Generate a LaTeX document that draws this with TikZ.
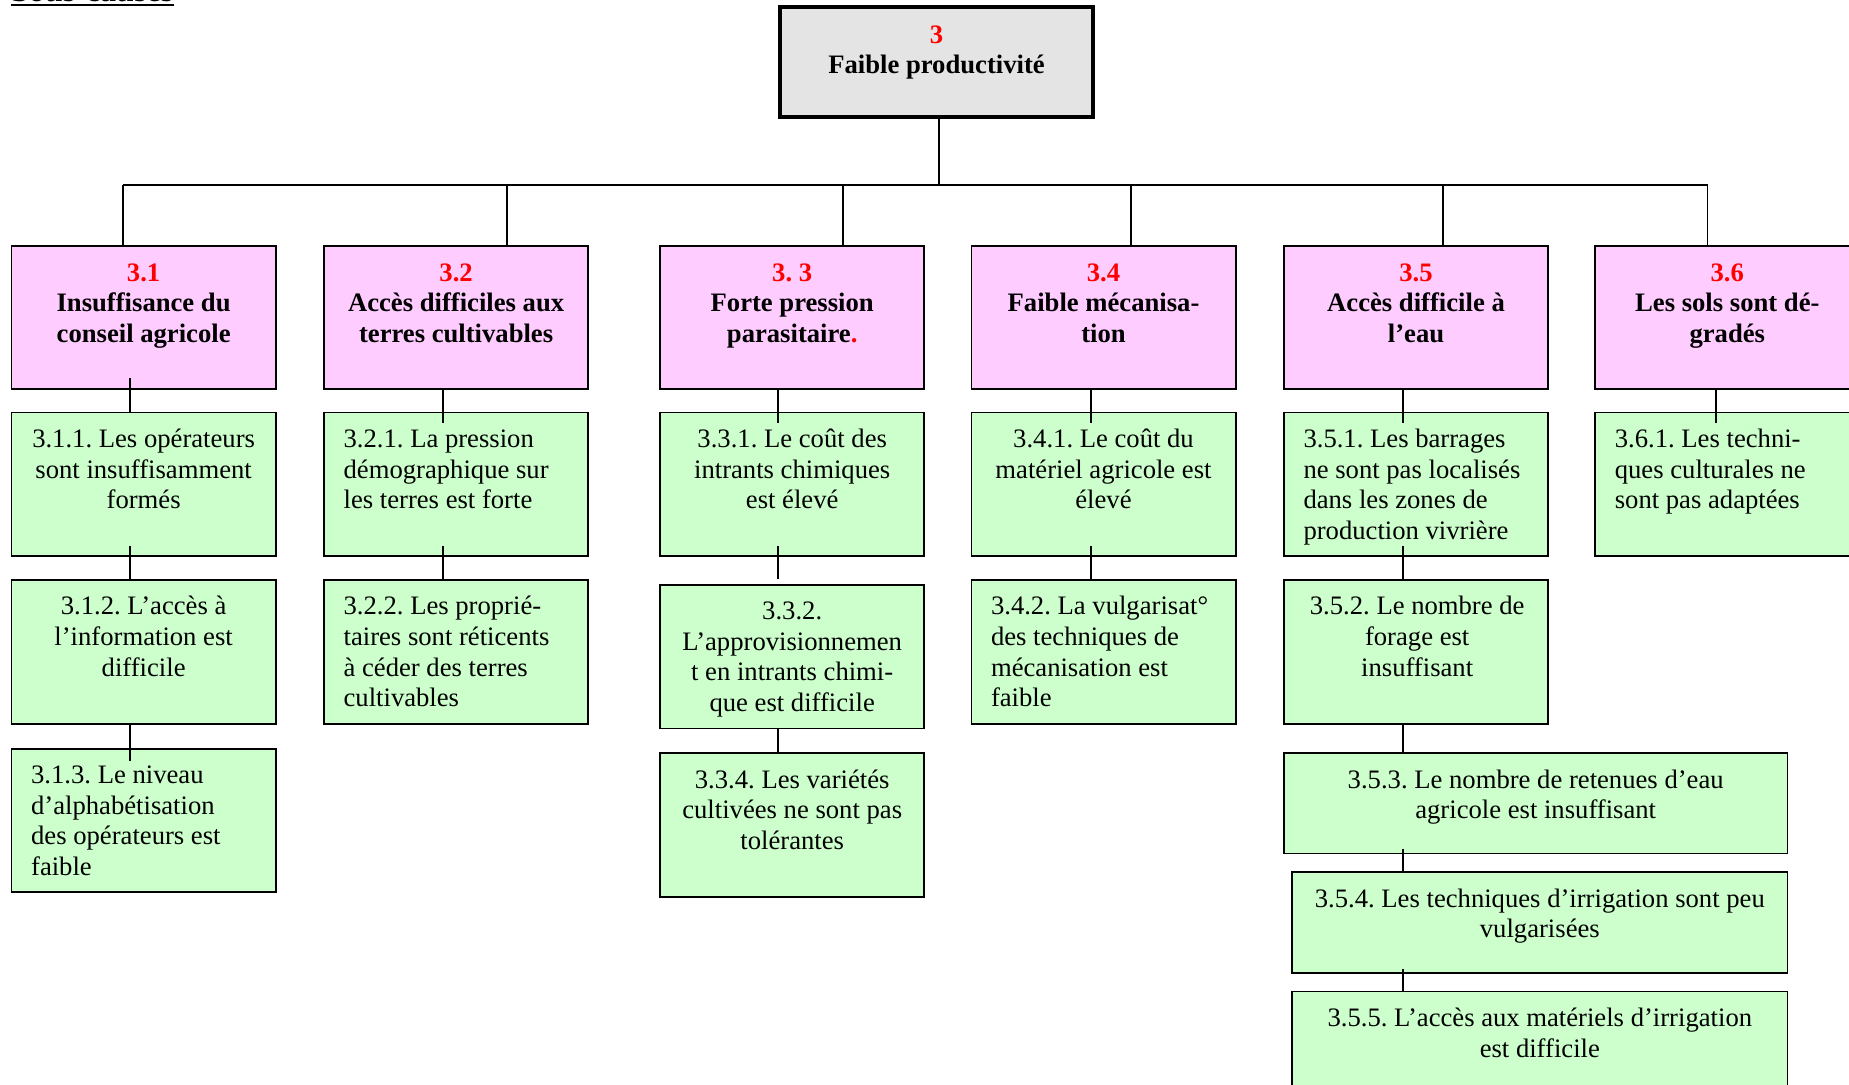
\documentclass[tikz,border=0pt]{standalone}
\usepackage{fontspec}
\setmainfont{Liberation Serif}
\usetikzlibrary{calc}
\definecolor{pinkc}{HTML}{FFCCFF}
\definecolor{greenc}{HTML}{CCFFCC}
\definecolor{topgray}{HTML}{E4E4E4}
\newcommand{\bodyfont}{\fontsize{11.3pt}{13pt}\selectfont}
\frenchspacing
\begin{document}
\begin{tikzpicture}[x=0.5pt,y=-0.5pt,
  topbox/.style={draw=black, line width=1.7pt, fill=topgray, anchor=north west, inner sep=0pt,
    minimum width=132.5pt, minimum height=46.5pt},
  pbox/.style={draw=black, line width=0.8pt, fill=pinkc, anchor=north west, inner sep=0pt,
    minimum width=112pt, minimum height=60.5pt},
  gbox/.style={draw=black, line width=0.8pt, fill=greenc, anchor=north west, inner sep=0pt,
    minimum width=112pt, minimum height=61pt},
  wbox/.style={gbox, minimum height=42.5pt},
  ctext/.style={anchor=north, align=center, inner sep=0pt, font=\bodyfont},
  ltext/.style={anchor=north west, align=left, inner sep=0pt, font=\bodyfont},
  btext/.style={ctext, font=\bodyfont\bfseries},
  conn/.style={line width=0.75pt}
]
\useasboundingbox (0,0) rectangle (1568,920);

% header
\node[anchor=base west, inner sep=0pt, font=\fontsize{13.6pt}{16pt}\selectfont\bfseries] (sc) at (9,1.5) {Sous-causes};
\draw[line width=0.8pt] ($(sc.base west)+(0,2.8)$) -- ($(sc.base east)+(0,2.8)$);

% top box
\node[topbox] (top) at (660,4.5) {};
\node[btext] (ttop) at ($(top.north)+(0,13.5)$) {\strut\textcolor{red}{3}\\Faible productivité};

% pink boxes
\node[pbox] (p31) at (9,208) {};
\node[pbox] (p32) at (274,208) {};
\node[pbox] (p33) at (559,208) {};
\node[pbox] (p34) at (823,208) {};
\node[pbox] (p35) at (1088,208) {};
\node[pbox] (p36) at (1352,208) {};
\node[btext] (tp31) at ($(p31.north)+(0,11.8)$) {\strut\textcolor{red}{3.1}\\Insuffisance du\\conseil agricole};
\node[btext] (tp32) at ($(p32.north)+(0,11.8)$) {\strut\textcolor{red}{3.2}\\Accès difficiles aux\\terres cultivables};
\node[btext] (tp33) at ($(p33.north)+(0,11.8)$) {\strut\textcolor{red}{3. 3}\\Forte pression\\parasitaire\textcolor{red}{.}};
\node[btext] (tp34) at ($(p34.north)+(0,11.8)$) {\strut\textcolor{red}{3.4}\\Faible mécanisa-\\tion};
\node[btext] (tp35) at ($(p35.north)+(0,11.8)$) {\strut\textcolor{red}{3.5}\\Accès difficile à\\l’eau};
\node[btext] (tp36) at ($(p36.north)+(0,11.8)$) {\strut\textcolor{red}{3.6}\\Les sols sont dé-\\gradés};

% green boxes
\node[gbox] (g311) at (9,349) {};
\node[gbox] (g312) at (9,491) {};
\node[gbox] (g313) at (9,634) {};
\node[gbox] (g321) at (274,349) {};
\node[gbox] (g322) at (274,491) {};
\node[gbox] (g331) at (559,349) {};
\node[gbox] (g332) at (559,495) {};
\node[gbox] (g334) at (559,638) {};
\node[gbox] (g341) at (823,349) {};
\node[gbox] (g342) at (823,491) {};
\node[gbox] (g351) at (1088,349) {};
\node[gbox] (g352) at (1088,491) {};
\node[wbox, minimum width=213.5pt] (g353) at (1088,638) {};
\node[wbox, minimum width=210pt] (g354) at (1095,739) {};
\node[wbox, minimum width=210pt] (g355) at (1095,840) {};
\node[gbox] (g361) at (1352,349) {};

% green texts
\node[ctext] (t311) at ($(g311.north)+(0,11.8)$) {\strut 3.1.1. Les opérateurs\\sont insuffisamment\\formés};
\node[ctext] (t312) at ($(g312.north)+(0,11.8)$) {\strut 3.1.2. L’accès à\\l’information est\\difficile};
\node[ltext] (t313) at ($(g313.north west)+(17,11.8)$) {\strut 3.1.3. Le niveau\\d’alphabétisation\\des opérateurs est\\faible};
\node[ltext] (t321) at ($(g321.north west)+(17,11.8)$) {\strut 3.2.1. La pression\\démographique sur\\les terres est forte};
\node[ltext] (t322) at ($(g322.north west)+(17,11.8)$) {\strut 3.2.2. Les proprié-\\taires sont réticents\\à céder des terres\\cultivables};
\node[ctext] (t331) at ($(g331.north)+(0,11.8)$) {\strut 3.3.1. Le coût des\\intrants chimiques\\est élevé};
\node[ctext] (t332) at ($(g332.north)+(0,11.8)$) {\strut 3.3.2.\\L’approvisionnemen\\t en intrants chimi-\\que est difficile};
\node[ctext] (t334) at ($(g334.north)+(0,11.8)$) {\strut 3.3.4. Les variétés\\cultivées ne sont pas\\tolérantes};
\node[ctext] (t341) at ($(g341.north)+(0,11.8)$) {\strut 3.4.1. Le coût du\\matériel agricole est\\élevé};
\node[ltext] (t342) at ($(g342.north west)+(17,11.8)$) {\strut 3.4.2. La vulgarisat°\\des techniques de\\mécanisation est\\faible};
\node[ltext] (t351) at ($(g351.north west)+(17,11.8)$) {\strut 3.5.1. Les barrages\\ne sont pas localisés\\dans les zones de\\production vivrière};
\node[ctext] (t352) at ($(g352.north)+(1,11.8)$) {\strut 3.5.2. Le nombre de\\forage est\\insuffisant};
\node[ctext] (t353) at ($(g353.north)+(0,11.8)$) {\strut 3.5.3. Le nombre de retenues d’eau\\agricole est insuffisant};
\node[ctext] (t354) at ($(g354.north)+(0,11.8)$) {\strut 3.5.4. Les techniques d’irrigation sont peu\\vulgarisées};
\node[ctext] (t355) at ($(g355.north)+(0,11.8)$) {\strut 3.5.5. L’accès aux matériels d’irrigation\\est difficile};
\node[ltext] (t361) at ($(g361.north west)+(17,11.8)$) {\strut 3.6.1. Les techni-\\ques culturales ne\\sont pas adaptées};

% bar connectors
\coordinate (bar0) at (796,157);
\coordinate (bar31) at (104,157);
\coordinate (bar32) at (430,157);
\coordinate (bar33) at (715,157);
\coordinate (bar34) at (959,157);
\coordinate (bar35) at (1224,157);
\coordinate (bar36) at (1448,157);
\draw[conn] (bar0 |- top.south) -- (bar0);
\draw[conn] (bar31) -- (bar36);
\draw[conn] (bar31) -- (bar31 |- p31.north);
\draw[conn] (bar32) -- (bar32 |- p32.north);
\draw[conn] (bar33) -- (bar33 |- p33.north);
\draw[conn] (bar34) -- (bar34 |- p34.north);
\draw[conn] (bar35) -- (bar35 |- p35.north);
\draw[conn] (bar36) -- (bar36 |- p36.north);

% vertical chain connectors
\coordinate (v1) at (110.5,0);
\coordinate (v2) at (375.5,0);
\coordinate (v3) at (660,0);
\coordinate (v4) at (925,0);
\coordinate (v5) at (1190,0);
\coordinate (v6) at (1455,0);

\draw[conn] ($(v1 |- p31.south)+(0,-10)$) -- (v1 |- g311.north);
\draw[conn] ($(v1 |- g311.south)+(0,-10)$) -- (v1 |- g312.north);
\draw[conn] (v1 |- g312.south) -- ($(v1 |- g313.north)+(0,11)$);

\draw[conn] (v2 |- p32.south) -- ($(v2 |- g321.north)+(0,10)$);
\draw[conn] ($(v2 |- g321.south)+(0,-10)$) -- (v2 |- g322.north);

\draw[conn] (v3 |- p33.south) -- ($(v3 |- g331.north)+(0,10)$);
\draw[conn] ($(v3 |- g331.south)+(0,-10)$) -- ($(v3 |- g332.north)+(0,-4)$);
\draw[conn] (v3 |- g332.south) -- (v3 |- g334.north);

\draw[conn] (v4 |- p34.south) -- ($(v4 |- g341.north)+(0,10)$);
\draw[conn] ($(v4 |- g341.south)+(0,-10)$) -- (v4 |- g342.north);

\draw[conn] (v5 |- p35.south) -- ($(v5 |- g351.north)+(0,10)$);
\draw[conn] ($(v5 |- g351.south)+(0,-10)$) -- (v5 |- g352.north);
\draw[conn] (v5 |- g352.south) -- (v5 |- g353.north);
\draw[conn] ($(v5 |- g353.south)+(0,-5)$) -- (v5 |- g354.north);
\draw[conn] ($(v5 |- g354.south)+(0,-4)$) -- (v5 |- g355.north);

\draw[conn] (v6 |- p36.south) -- ($(v6 |- g361.north)+(0,10)$);
\end{tikzpicture}
\end{document}
